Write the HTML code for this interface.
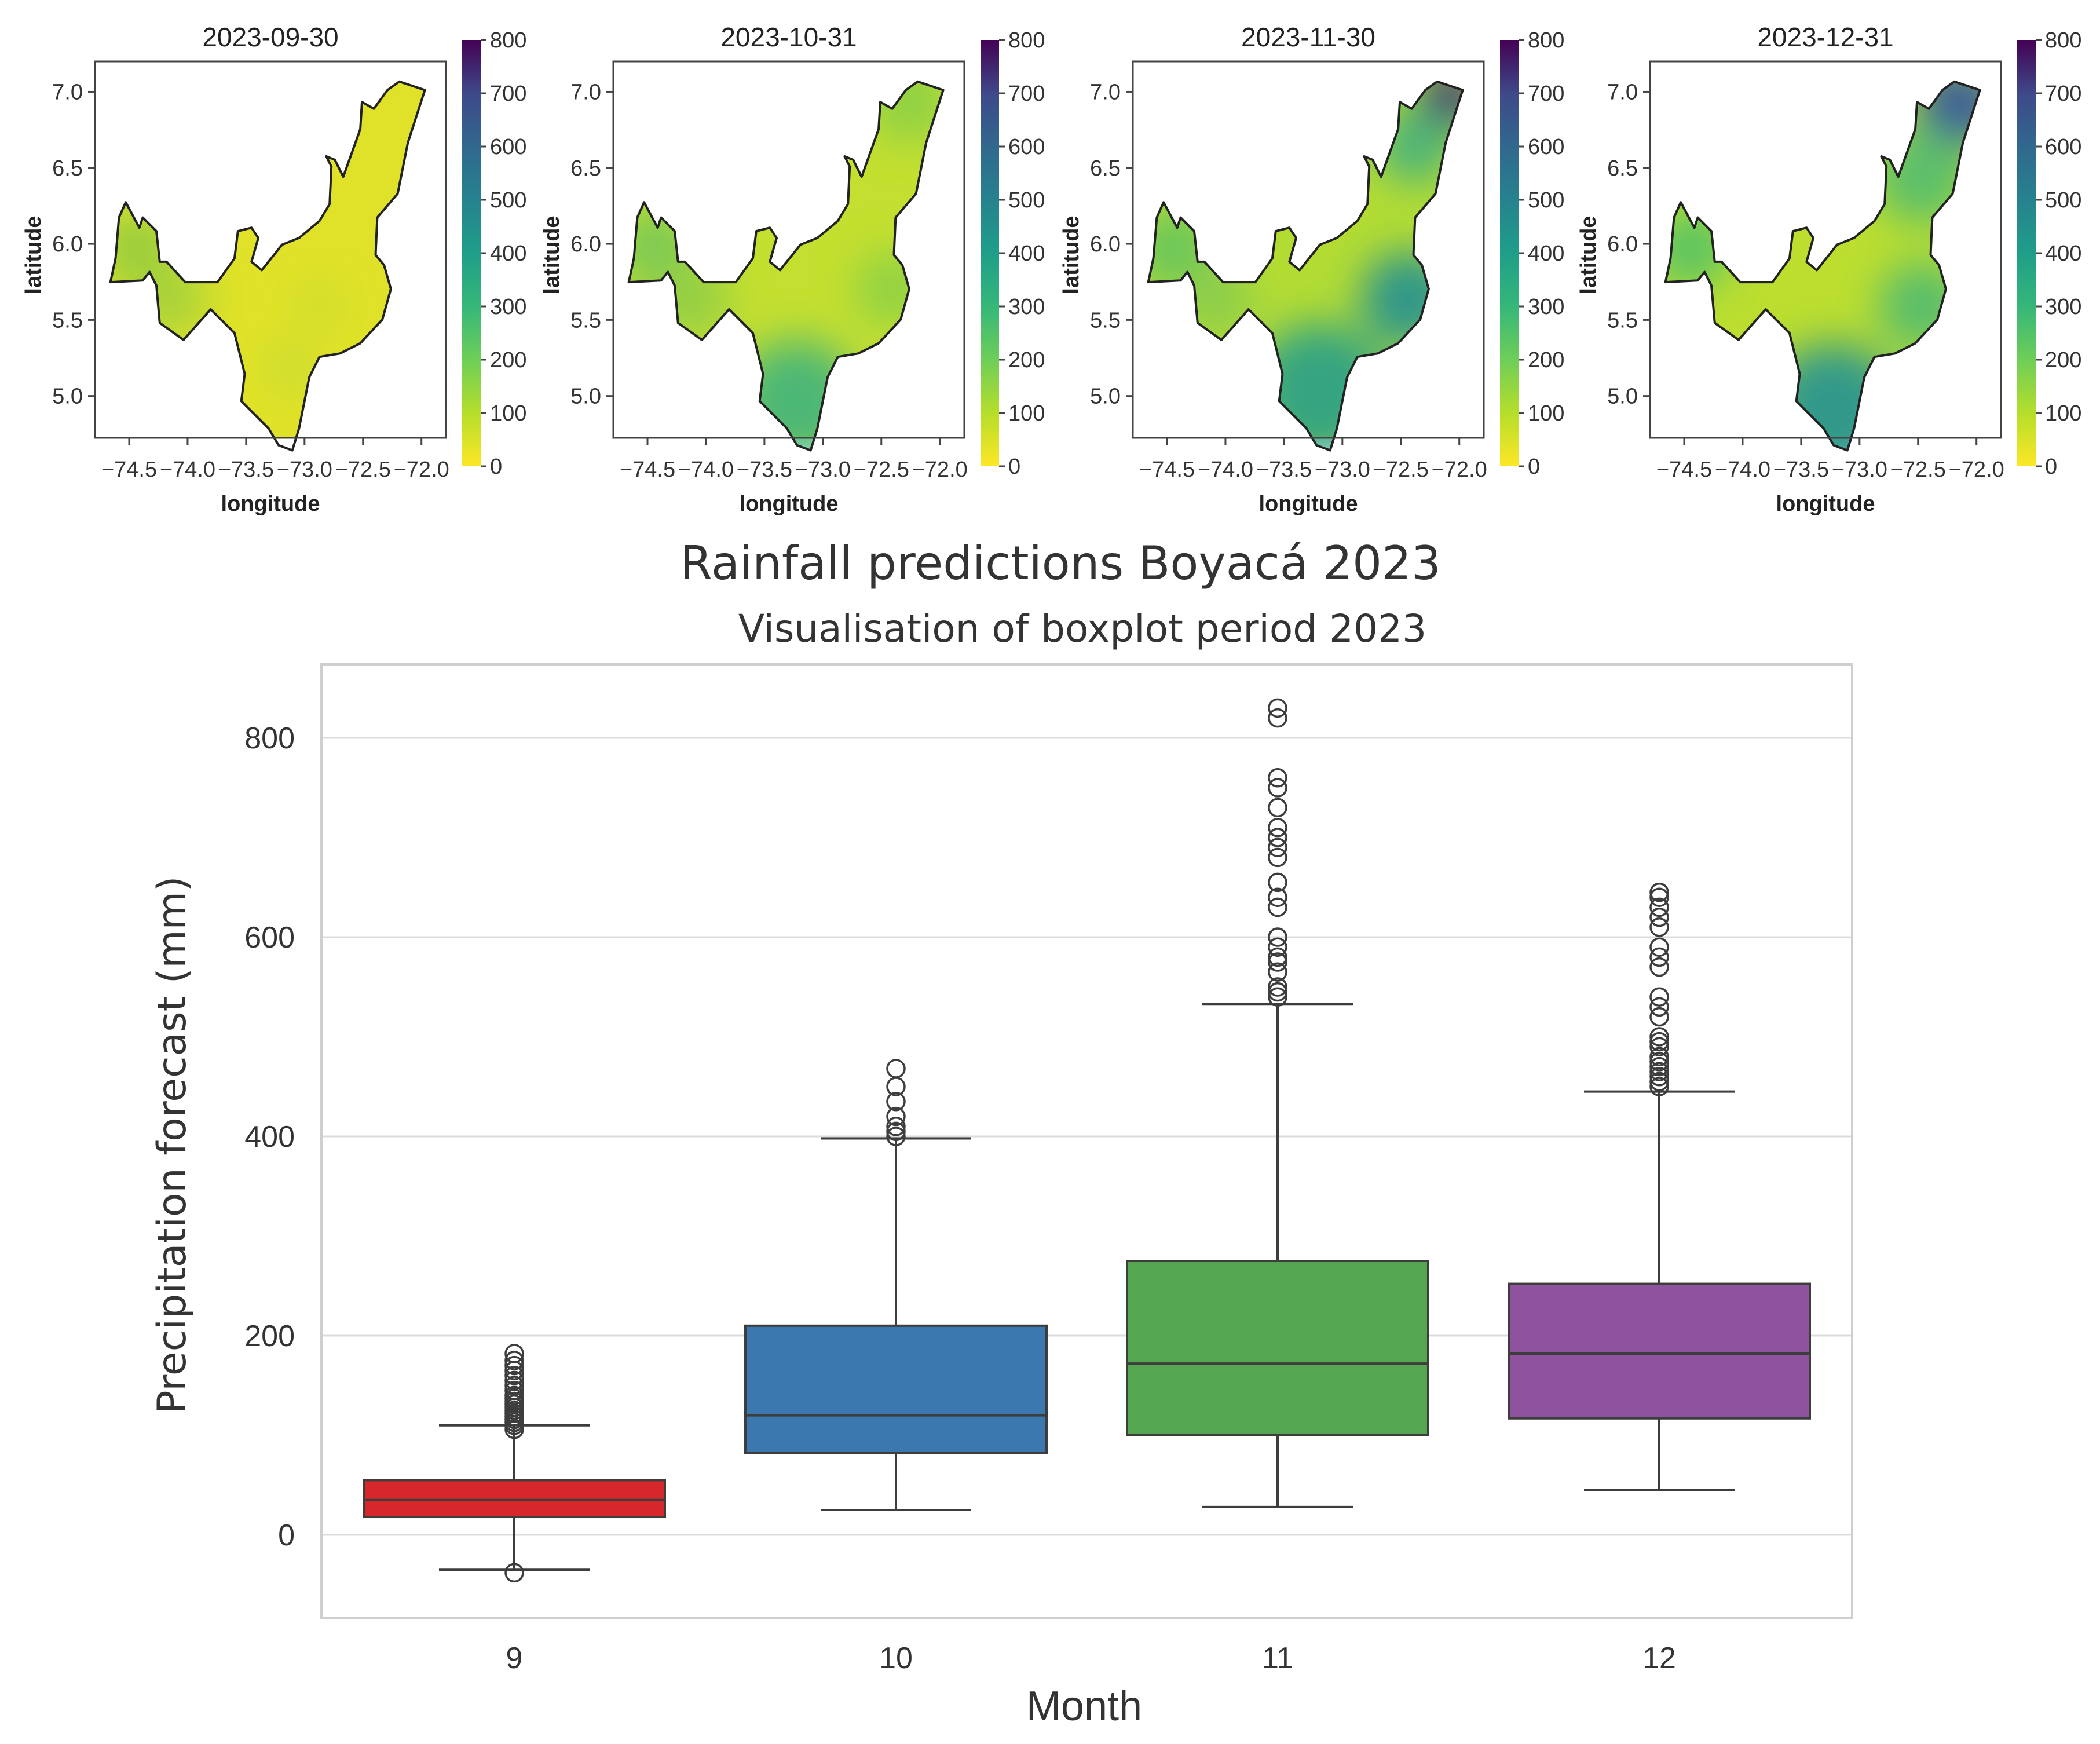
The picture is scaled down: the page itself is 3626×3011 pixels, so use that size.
<!DOCTYPE html>
<html><head><meta charset="utf-8">
<style>
html,body{margin:0;padding:0;background:#fff;}
svg{display:block;}
text{font-family:"Liberation Sans Narrow","Liberation Sans",sans-serif;}
</style></head>
<body>
<svg id="fig" width="3626" height="3011" viewBox="0 0 3626 3011" xmlns="http://www.w3.org/2000/svg">
<defs>
<linearGradient id="viridis" x1="0" y1="1" x2="0" y2="0">
<stop offset="0" stop-color="#fde725"/><stop offset="0.125" stop-color="#b5de2b"/>
<stop offset="0.25" stop-color="#6ece58"/><stop offset="0.375" stop-color="#35b779"/>
<stop offset="0.5" stop-color="#1f9e89"/><stop offset="0.625" stop-color="#26828e"/>
<stop offset="0.75" stop-color="#31688e"/><stop offset="0.875" stop-color="#3e4989"/>
<stop offset="1" stop-color="#440154"/>
</linearGradient>
</defs>
<g id="maps"></g>
<g id="box"></g>
</svg>
<script>
// ---- boxplot data ----
const months = ["9","10","11","12"];
const q1 = [18, 82, 100, 117];
const medians = [35, 120, 172, 182];
const q3 = [55, 210, 275, 252];
const whiskLo = [-35, 25, 28, 45];
const whiskHi = [110, 398, 533, 445];
const outliers9 = [106,110,113,116,119,122,125,128,131,134,137,140,145,150,155,160,165,170,175,182,-38];
const outliers10 = [400,405,410,420,435,450,468];
const outliers11 = [540,545,550,565,575,580,590,600,630,640,655,680,690,700,710,730,750,760,820,830];
const outliers12 = [450,455,460,465,470,475,480,490,495,500,520,530,540,570,580,590,610,620,630,640,645];
const outliers = [outliers9, outliers10, outliers11, outliers12];
const yTicks = [0,200,400,600,800];
const boxColors = ["#d7272b","#3b78b0","#55a650","#8f529c"];
// ---- map panel data ----
const mapTitles = ["2023-09-30","2023-10-31","2023-11-30","2023-12-31"];
const lonTicks = [-74.5,-74.0,-73.5,-73.0,-72.5,-72.0];
const latTicks = [5.0,5.5,6.0,6.5,7.0];
const cbTicks = [0,100,200,300,400,500,600,700,800];

const NS="http://www.w3.org/2000/svg";
function mk(tag, attrs, parent){const e=document.createElementNS(NS,tag);for(const k in attrs)e.setAttribute(k,attrs[k]);parent.appendChild(e);return e;}

// ---------- maps ----------
const maps=document.getElementById('maps');
const offsets=[0,895,1792,2685];
const shapeZ=[[1250,265],[1175,240],[1140,265],[1100,320],[1065,300],[1060,380],[1010,520],[985,470],[960,460],[975,490],[970,600],[940,650],[880,700],[830,720],[770,795],[740,770],[760,700],[740,670],[700,680],[690,760],[640,830],[580,830],[545,830],[490,770],[470,770],[460,680],[420,640],[410,670],[370,595],[350,640],[340,760],[325,830],[420,825],[440,800],[460,840],[470,950],[540,1000],[620,910],[690,980],[720,1100],[710,1180],[790,1260],[820,1310],[860,1325],[880,1260],[910,1110],[940,1050],[1000,1040],[1060,1010],[1125,940],[1150,850],[1130,780],[1105,750],[1110,640],[1170,570],[1200,420]];
const bases=["#dfe228","#c4df2f","#b3dc33","#bcde2f"];
const blobs=[
 [[400,730,120,"#9acd3c"],[500,880,110,"#a6d23a"],[940,900,40,"#b6d53a"],[860,1080,50,"#b6d53a"]],
 [[400,730,120,"#7ac955"],[820,1180,180,"#4cb776"],[1150,300,120,"#8fd145"],[500,880,120,"#94cf45"],[1100,850,110,"#8fd244"]],
 [[400,730,120,"#6ac65c"],[830,1150,200,"#36a481"],[1090,880,140,"#2f968a"],[1210,290,90,"#3c2f7d"],[1110,430,110,"#4bb47a"],[520,880,110,"#8ccd4c"]],
 [[400,730,120,"#5cc464"],[820,1210,200,"#32998a"],[1190,310,130,"#3d6197"],[1080,520,140,"#5cbf6a"],[1080,900,130,"#58bd6c"]]
];
function lonX(v,dx){return dx+(380+(v+74.5)*344)/1.704;}
function latY(v){return (270+(7.0-v)*447.5)/1.704;}
offsets.forEach((dx,i)=>{
  const g=mk('g',{},maps);
  
  
  const pts=shapeZ.map(p=>(dx+p[0]/1.704).toFixed(1)+','+(p[1]/1.704).toFixed(1)).join(' ');
  const cp=mk('clipPath',{id:'clip'+i},g);
  mk('polygon',{points:pts},cp);
  const fl=mk('filter',{id:'blur'+i,x:'-50%',y:'-50%',width:'200%',height:'200%'},g);
  mk('feGaussianBlur',{stdDeviation:'35'},fl);
  const fillG=mk('g',{'clip-path':'url(#clip'+i+')'},g);
  mk('rect',{x:dx+164,y:106,width:606,height:650,fill:bases[i]},fillG);
  const bg=mk('g',{filter:'url(#blur'+i+')'},fillG);
  blobs[i].forEach(b=>mk('circle',{cx:dx+b[0]/1.704,cy:b[1]/1.704,r:b[2]/1.704,fill:b[3]},bg));
  const outline=mk('polygon',{points:pts,fill:'none',stroke:'#222',"stroke-width":4,"stroke-linejoin":"round"},g);
  
  
  const frame=mk('rect',{x:dx+164,y:106,width:606,height:650,fill:'none',stroke:'#444','stroke-width':3},g);
  
  
  const t=mk('text',{x:dx+467,y:80,'font-size':46,'text-anchor':'middle',fill:'#222'},g);
  t.textContent=mapTitles[i];
  
  
  lonTicks.forEach(v=>{
    const x=lonX(v,dx);
    mk('line',{x1:x,y1:756,x2:x,y2:768,stroke:'#444','stroke-width':3},g);
    const tl=mk('text',{x:x,y:823,'font-size':38,'text-anchor':'middle',fill:'#333'},g);
    tl.textContent=(v<0?'\u2212':'')+Math.abs(v).toFixed(1);
    
    
  });
  latTicks.forEach(v=>{
    const y=latY(v);
    mk('line',{x1:dx+152,y1:y,x2:dx+164,y2:y,stroke:'#444','stroke-width':3},g);
    const tl=mk('text',{x:dx+143,y:y+13,'font-size':38,'text-anchor':'end',fill:'#333'},g);
    tl.textContent=v.toFixed(1);
    
    
  });
  const xl=mk('text',{x:dx+467,y:882,'font-size':38,'font-weight':'bold','text-anchor':'middle',fill:'#222'},g);
  xl.textContent='longitude';
  
  
  const yl=mk('text',{x:0,y:0,'font-size':38,'font-weight':'bold','text-anchor':'middle',fill:'#222',transform:`translate(${dx+70},440) rotate(-90)`},g);
  yl.textContent='latitude';
  
  
  const cb=mk('rect',{x:dx+798,y:69,width:32,height:736,fill:'url(#viridis)'},g);
  
  
  cbTicks.forEach(v=>{
    const y=805-v/800*736;
    mk('line',{x1:dx+830,y1:y,x2:dx+840,y2:y,stroke:'#444','stroke-width':3},g);
    const tl=mk('text',{x:dx+846,y:y+13,'font-size':38,fill:'#333'},g);
    tl.textContent=v;
    
    
  });
});

// ---------- boxplot ----------
const box=document.getElementById('box');
const L=555,R=3198,T=1147,B=2793;
const y0=2650, pxPer=(2650-1274)/800;
function yS(v){return y0-v*pxPer;}
function xS(i){return 888+i*659;}
const bw=520;
function txt(parent,x,y,s,size,anchor,name,extra){const t=mk('text',Object.assign({x:x,y:y,'font-size':size,'text-anchor':anchor,fill:'#333'},extra||{}),parent);t.textContent=s;return t;}
txt(box,1831,1000,'Rainfall predictions Boyacá 2023',80,'middle','main-title',{style:'font-family:"DejaVu Sans",sans-serif'});
txt(box,1869,1108,'Visualisation of boxplot period 2023',66,'middle','subtitle',{style:'font-family:"DejaVu Sans",sans-serif'});
yTicks.forEach(v=>{
  const gl=mk('line',{x1:L,x2:R,y1:yS(v),y2:yS(v),stroke:'#dcdcdc','stroke-width':3},box);
  
  
  txt(box,509,yS(v)+18,String(v),52,'end','y-tick-label');
});
const fr=mk('rect',{x:L,y:T,width:R-L,height:B-T,fill:'none',stroke:'#cfcfcf','stroke-width':4},box);


months.forEach((m,i)=>{
  const cx=xS(i);
  const g=mk('g',{},box);
  
  
  const st={stroke:'#3d3d3d','stroke-width':4,fill:'none'};
  mk('line',Object.assign({x1:cx,x2:cx,y1:yS(q3[i]),y2:yS(whiskHi[i])},st),g);
  mk('line',Object.assign({x1:cx,x2:cx,y1:yS(q1[i]),y2:yS(whiskLo[i])},st),g);
  mk('line',Object.assign({x1:cx-bw/4,x2:cx+bw/4,y1:yS(whiskHi[i]),y2:yS(whiskHi[i])},st),g);
  mk('line',Object.assign({x1:cx-bw/4,x2:cx+bw/4,y1:yS(whiskLo[i]),y2:yS(whiskLo[i])},st),g);
  const r=mk('rect',{x:cx-bw/2,y:yS(q3[i]),width:bw,height:yS(q1[i])-yS(q3[i]),fill:boxColors[i],stroke:'#3d3d3d','stroke-width':4},g);
  
  
  const md=mk('line',Object.assign({x1:cx-bw/2,x2:cx+bw/2,y1:yS(medians[i]),y2:yS(medians[i])},st),g);
  
  
  outliers[i].forEach(v=>{
    const c=mk('circle',{cx:cx,cy:yS(v),r:15,fill:'none',stroke:'#3d3d3d','stroke-width':3.5},g);
    
    
  });
  txt(box,cx,2880,m,52,'middle','x-tick-label');
});
txt(box,1872,2970,'Month',72,'middle','x-axis-title');
txt(box,0,0,'Precipitation forecast (mm)',68,'middle','y-axis-title',{transform:'translate(320,1977) rotate(-90)',style:'font-family:"DejaVu Sans",sans-serif'});
</script>
</body></html>
